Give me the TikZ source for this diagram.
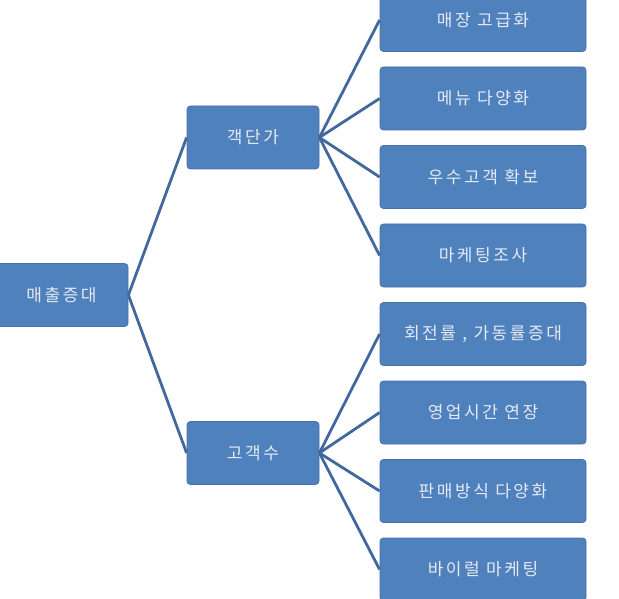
\documentclass[tikz,border=0pt]{standalone}
\usepackage{fontspec}
\setmainfont[LetterSpace=15]{Noto Sans CJK KR}
\definecolor{boxblue}{RGB}{79,129,189}
\definecolor{boxedge}{RGB}{70,114,168}
\definecolor{linkblue}{RGB}{66,104,158}
\definecolor{txt}{RGB}{228,234,243}
\begin{document}
\begin{tikzpicture}[x=1pt,y=-1pt,
  box/.style={draw=boxedge,line width=0.8pt,fill=boxblue,rounded corners=3.5pt,
    text=txt,font=\fontsize{17}{20}\selectfont,minimum height=63pt,inner sep=0pt,anchor=center},
  rootbox/.style={box,minimum width=140pt},
  midbox/.style={box,minimum width=132pt},
  leafbox/.style={box,minimum width=206pt},
  link/.style={draw=linkblue,line width=2.8pt}]
\useasboundingbox (0,0) rectangle (619,599);
\node[rootbox] (root) at (58,295) {\hspace*{7pt}매출증대};
\node[midbox] (a) at (253,137.5) {객단가};
\node[midbox] (b) at (253,453) {고객수};
\node[leafbox] (l1) at (483,20) {매장 고급화};
\node[leafbox] (l2) at (483,98.5) {메뉴 다양화};
\node[leafbox] (l3) at (483,177) {우수고객 확보};
\node[leafbox] (l4) at (483,255.5) {마케팅조사};
\node[leafbox] (l5) at (483,334) {회전률 , 가동률증대};
\node[leafbox] (l6) at (483,412.5) {영업시간 연장};
\node[leafbox] (l7) at (483,491) {판매방식 다양화};
\node[leafbox] (l8) at (483,569.5) {바이럴 마케팅};
\draw[link] (root.east) -- (a.west);
\draw[link] (root.east) -- (b.west);
\foreach \n in {l1,l2,l3,l4} \draw[link] (a.east) -- (\n.west);
\foreach \n in {l5,l6,l7,l8} \draw[link] (b.east) -- (\n.west);
\end{tikzpicture}
\end{document}
